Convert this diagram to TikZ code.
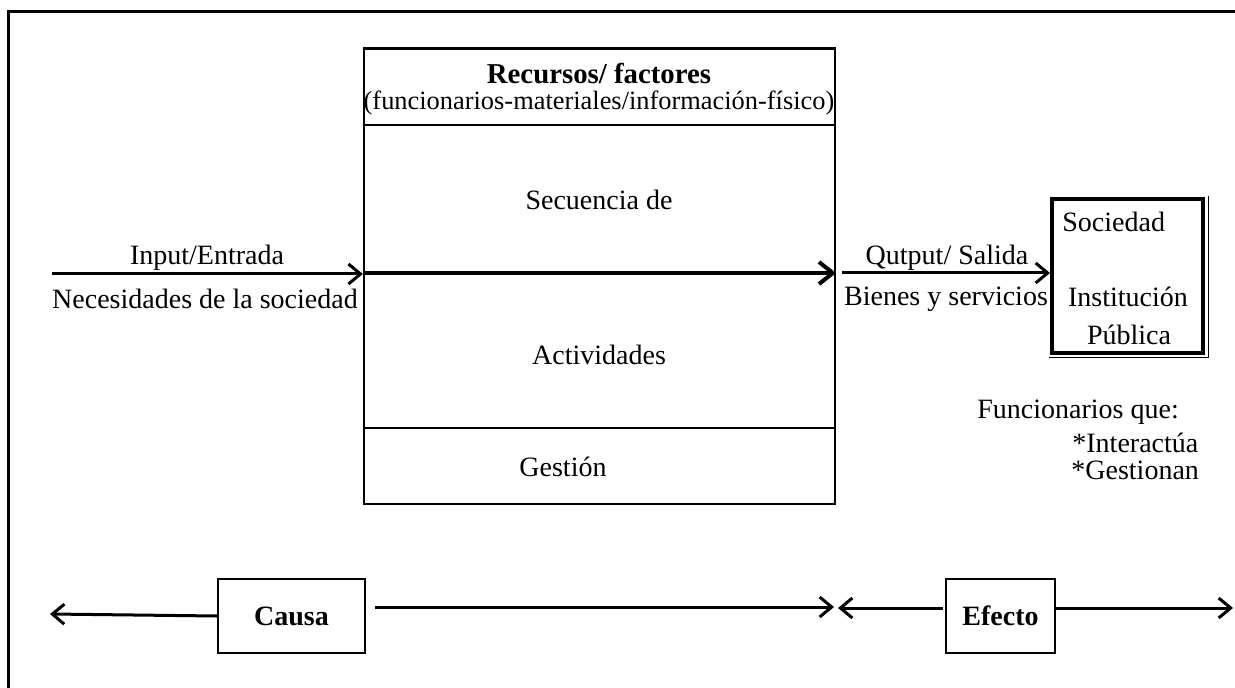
\documentclass[tikz,border=0pt]{standalone}
\usepackage{fontspec}
\setmainfont{Liberation Serif}
\usetikzlibrary{arrows.meta}

\begin{document}
\begin{tikzpicture}[x = 0.5pt, y = -0.5pt, font = \fontsize{14}{17}\selectfont,
		every node/.style = {inner sep = 0pt},
		caja/.style = {draw, line width = 1.2pt},
		flecha/.style = {-{Straight Barb[length = 6pt, width = 10pt]}, line width = 1.5pt},
		grueso/.style = {-{Straight Barb[length = 7pt, width = 11pt]}, line width = 2pt}]
	\useasboundingbox (0, 0) rectangle (1235, 688);
	% Marco
	\draw[line width = 1.5pt] (8, 688) -- (8, 12) -- (1235, 12);

	% Nodes
	\node[caja, minimum width = 235.5pt, minimum height = 227.75pt] (proceso) at (599.5, 276.25) {};
	\node[font = \fontsize{14.4}{17}\selectfont\bfseries] (recursos) at (599, 74) {Recursos/ factores};
	\node[font = \fontsize{13.2}{16}\selectfont] (funcionarios) at (599, 103) {(funcionarios-materiales/información-físico)};
	\node (secuencia) at (599, 200) {Secuencia de};
	\node (actividades) at (599, 355) {Actividades};
	\node (gestion) at (563, 467) {Gestión};
	\draw[line width = 1pt] (proceso.west |- 0, 125) -- (proceso.east |- 0, 125);
	\draw[line width = 1pt] (proceso.west |- 0, 428) -- (proceso.east |- 0, 428);

	\node (input) at (207, 258) {Input/Entrada};
	\node (necesidades) at (205, 299) {Necesidades de la sociedad};
	\node (output) at (947, 258) {Qutput/ Salida};
	\node (bienes) at (946, 299) {Bienes y servicios};

	\node[draw, line width = 1.6pt, minimum width = 75.5pt, minimum height = 77pt] (sociedad) at (1127.5, 276) {};
	\draw[line width = 0.5pt] ([xshift = 1.7pt, yshift = 0.8pt]sociedad.north east) -- ([xshift = 1.7pt, yshift = -1.7pt]sociedad.south east)
		-- ([xshift = -0.8pt, yshift = -1.7pt]sociedad.south west);
	\node[anchor = west] (soc) at (1062, 222) {Sociedad};
	\node (institucion) at (1128, 297) {Institución};
	\node (publica) at (1129, 335) {Pública};

	\node[anchor = west] (funcq) at (977, 412) {Funcionarios que:};
	\node[anchor = west] (interactua) at (1072, 443) {*Interactúa};
	\node[anchor = west] (gestionan) at (1071, 470) {*Gestionan};

	\node[caja, font = \fontsize{14}{17}\selectfont\bfseries, minimum width = 73.5pt, minimum height = 37pt] (causa) at (291.5, 616) {Causa};
	\node[caja, font = \fontsize{14}{17}\selectfont\bfseries, minimum width = 54.5pt, minimum height = 37pt] (efecto) at (1000.5, 616) {Efecto};

	\coordinate (entrada) at (52, 274);
	\coordinate (salidaIni) at (842, 273);
	\coordinate (salidaFin) at (1050, 273);
	\coordinate (causaIzq) at (50, 614);
	\coordinate (causaIni) at (375, 607);
	\coordinate (causaFin) at (834, 607);
	\coordinate (efectoIni) at (943, 608);
	\coordinate (efectoFin) at (838, 608);
	\coordinate (efectoDer) at (1233, 608);

	% Edges
	\draw[flecha] (entrada) -- (entrada -| proceso.west);
	\draw[grueso] (proceso.west |- 0, 273) -- (proceso.east |- 0, 273);
	\draw[flecha] (salidaIni) -- (salidaFin);
	\draw[flecha] (causa.west) -- (causaIzq);
	\draw[flecha] (causaIni) -- (causaFin);
	\draw[flecha] (efectoIni) -- (efectoFin);
	\draw[flecha] (efecto.east |- efectoDer) -- (efectoDer);
\end{tikzpicture}
\end{document}
